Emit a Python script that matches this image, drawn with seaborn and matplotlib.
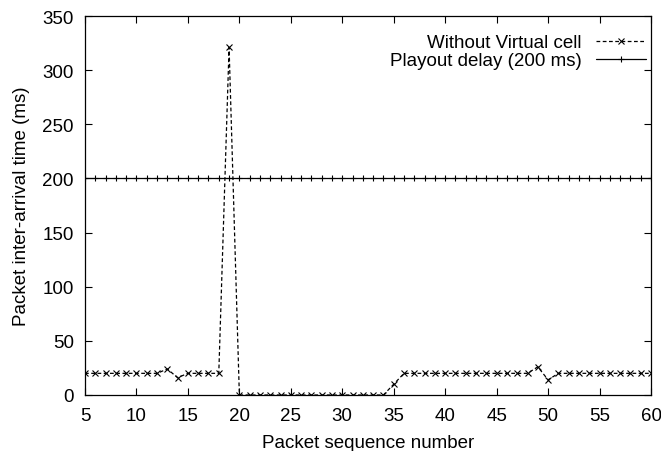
import matplotlib
matplotlib.use("Agg")
import matplotlib.pyplot as plt
import seaborn as sns
import numpy as np
import pandas as pd

seq = list(range(5, 61))
without_vc = [20, 20, 20, 20, 20, 20, 20, 20,   # 5-12
              24, 16, 20, 20, 20, 20,           # 13-18
              321,                              # 19
              0, 0, 0, 0, 0, 0, 0, 0, 0, 0, 0, 0, 0, 0, 0,  # 20-34
              10,                               # 35
              20, 20, 20, 20, 20, 20, 20, 20, 20, 20, 20, 20, 20,  # 36-48
              26, 14,                           # 49-50
              20, 20, 20, 20, 20, 20, 20, 20, 20, 20]  # 51-60
playout = [200] * len(seq)

sns.set_style("ticks")
plt.rcParams['font.family'] = ['Liberation Sans', 'DejaVu Sans']
plt.rcParams['text.color'] = 'black'
plt.rcParams['axes.labelcolor'] = 'black'

FS = 13.5
fig = plt.figure(figsize=(6.61, 4.52), dpi=100)
ax = fig.add_axes([85/661, 1 - 396/452, (651-85)/661, (396-17)/452])

df1 = pd.DataFrame({"x": seq, "y": without_vc})
df2 = pd.DataFrame({"x": seq, "y": playout})
sns.lineplot(data=df1, x="x", y="y", ax=ax, color="black", legend=False)
sns.lineplot(data=df2, x="x", y="y", ax=ax, color="black", legend=False)

l1, l2 = ax.lines[0], ax.lines[1]
l1.set(linestyle=(0, (3, 2)), linewidth=0.9, marker="x", markersize=5,
       markeredgewidth=0.8, markeredgecolor="black", markerfacecolor="black",
       label="Without Virtual cell")
l2.set(linestyle="-", linewidth=0.9, marker="+", markersize=5,
       markeredgewidth=0.8, markeredgecolor="black", markerfacecolor="black",
       label="Playout delay (200 ms)")

ax.set_xlim(5, 60)
ax.set_ylim(0, 350)
ax.set_xticks(range(5, 61, 5))
ax.set_yticks(range(0, 351, 50))
ax.tick_params(direction="in", top=True, right=True, labelsize=FS, length=5, width=0.8,
               colors="black")
ax.tick_params(axis="x", pad=8.7)
ax.tick_params(axis="y", pad=8)
for s in ax.spines.values():
    s.set_linewidth(0.9)
    s.set_color("black")
ax.set_xlabel("Packet sequence number", fontsize=FS, labelpad=7.5, color="black")
ax.set_ylabel("Packet inter-arrival time (ms)", fontsize=FS, labelpad=9, color="black")

leg = ax.legend(handles=[l1, l2], loc="upper right", bbox_to_anchor=(1.0, 0.965),
                frameon=False, fontsize=FS, markerfirst=False, handlelength=2.7,
                borderaxespad=0.0, borderpad=0.25, labelspacing=0.05,
                handletextpad=0.75, numpoints=1)
for t in leg.get_texts():
    t.set_color("black")

fig.savefig("out.png", dpi=100)
